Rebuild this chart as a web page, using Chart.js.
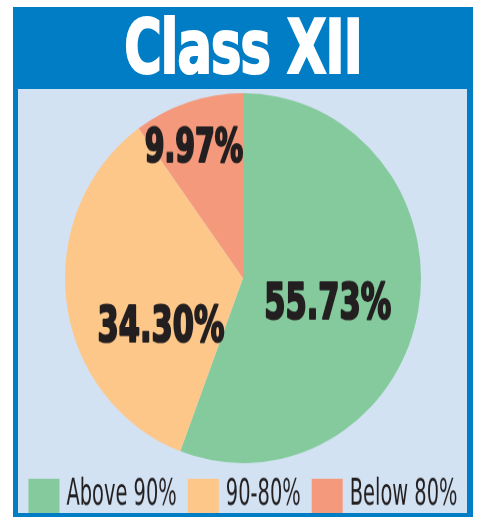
<!DOCTYPE html>
<html>
<head>
<meta charset="utf-8">
<script src="https://cdn.jsdelivr.net/npm/chart.js@4/dist/chart.umd.min.js"></script>
<style>
  html, body { margin: 0; padding: 0; background: #ffffff; width: 484px; height: 517px; overflow: hidden; }
  #frame { position: absolute; left: 13px; top: 7px; width: 460px; height: 510px; background: #007DC5; }
  #title { position: absolute; left: 13px; top: 7px; width: 460px; height: 82px; text-align: center;
           color: #ffffff; font-family: "DejaVu Sans Condensed", "DejaVu Sans", sans-serif;
           font-weight: bold; font-size: 66px; line-height: 82px; -webkit-text-stroke: 2px #ffffff;
           transform: scale(0.86, 1.12); transform-origin: 50% 50%; letter-spacing: -1px; }
  #panel { position: absolute; left: 18px; top: 89px; width: 449px; height: 424px; background: #D3E2F3; }
  canvas { display: block; }
</style>
</head>
<body>
<div id="frame"></div>
<div id="title">Class XII</div>
<div id="panel"><canvas id="c" width="449" height="408" style="width:449px;height:424px"></canvas></div>
<script>
const categories = ["Above 90%", "90-80%", "Below 80%"];
const shares = [55.73, 34.30, 9.97];
const valueLabels = ["55.73%", "34.30%", "9.97%"];
const sliceColors = ["#84CA9C", "#FDC78A", "#F4997C"];
// label placement: angle (deg, clockwise from 3 o'clock) and fraction of radius
const labelAngles = [17.6, 149.4, 248.4];
const labelRadii = [0.50, 0.535, 0.747];
const labelSizes = [44, 44, 41];

const FONT = '"DejaVu Sans Condensed", "DejaVu Sans", sans-serif';

const valueLabelPlugin = {
  id: 'valueLabels',
  afterDatasetsDraw(chart) {
    const ctx = chart.ctx;
    const meta = chart.getDatasetMeta(0);
    meta.data.forEach((arc, i) => {
      const a = labelAngles[i] * Math.PI / 180;
      const r = arc.outerRadius * labelRadii[i];
      const x = arc.x + Math.cos(a) * r;
      const y = arc.y + Math.sin(a) * r;
      ctx.save();
      ctx.translate(x, y);
      ctx.scale(0.77, 1.08);
      ctx.font = 'bold ' + labelSizes[i] + 'px ' + FONT;
      ctx.textAlign = 'center';
      ctx.textBaseline = 'middle';
      ctx.fillStyle = '#231F20';
      ctx.strokeStyle = '#231F20';
      ctx.lineWidth = 2;
      ctx.lineJoin = 'round';
      ctx.strokeText(valueLabels[i], 0, 0);
      ctx.fillText(valueLabels[i], 0, 0);
      ctx.restore();
    });
  }
};

// legend drawn below the pie, centred on the pie centre, from the chart's own labels & colours
const legendPlugin = {
  id: 'bottomLegend',
  afterDraw(chart) {
    const ctx = chart.ctx;
    const arc = chart.getDatasetMeta(0).data[0];
    const labels = chart.data.labels;
    const colors = chart.data.datasets[0].backgroundColor;
    const boxW = 31, boxH = 33, gap = 7, spacing = 11, sx = 0.6, sy = 0.97;
    ctx.save();
    ctx.font = '36px ' + FONT;
    const widths = labels.map(t => ctx.measureText(t).width * sx);
    const total = widths.reduce((s, w) => s + boxW + gap + w, 0) + spacing * (labels.length - 1);
    let x = arc.x - total / 2;
    const top = chart.chartArea.bottom + 15;
    labels.forEach((t, i) => {
      ctx.fillStyle = colors[i];
      ctx.fillRect(x, top, boxW, boxH);
      x += boxW + gap;
      ctx.save();
      ctx.translate(x, top + boxH / 2 - 1);
      ctx.scale(sx, sy);
      ctx.fillStyle = '#231F20';
      ctx.textAlign = 'left';
      ctx.textBaseline = 'middle';
      ctx.fillText(t, 0, 0);
      ctx.restore();
      x += widths[i] + spacing;
    });
    ctx.restore();
  }
};

new Chart(document.getElementById('c'), {
  type: 'pie',
  data: {
    labels: categories,
    datasets: [{
      data: shares,
      backgroundColor: sliceColors,
      borderWidth: 0
    }]
  },
  options: {
    responsive: false,
    animation: false,
    layout: { padding: { top: 4, left: 1, right: 0, bottom: 48 } },
    plugins: {
      tooltip: { enabled: false },
      legend: { display: false }
    }
  },
  plugins: [valueLabelPlugin, legendPlugin]
});
</script>
</body>
</html>
